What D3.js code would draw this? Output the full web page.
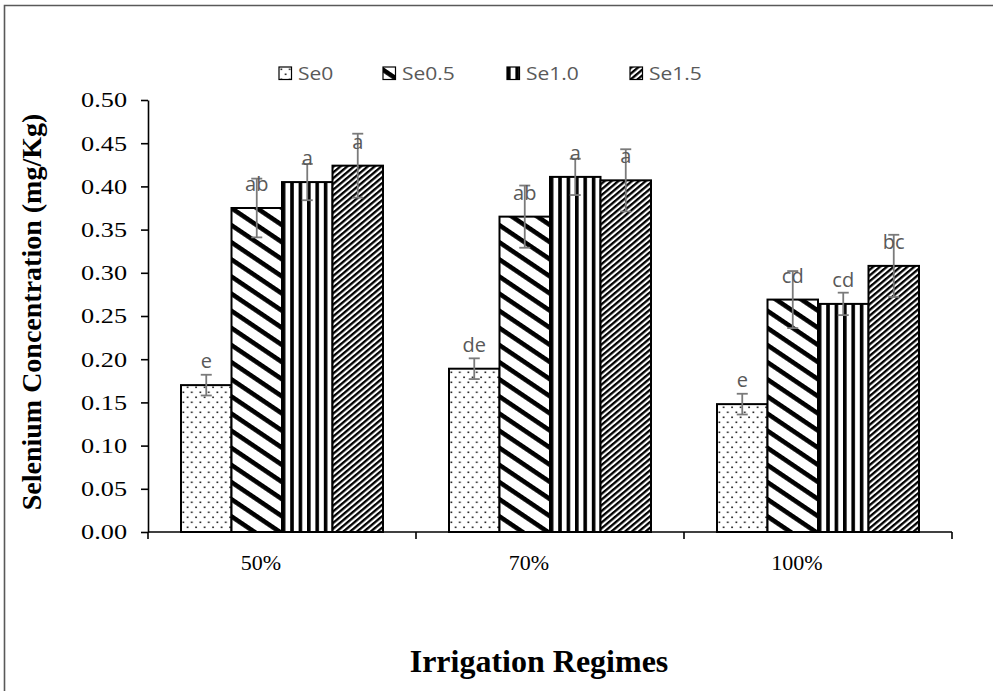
<!DOCTYPE html>
<html>
<head>
<meta charset="utf-8">
<script src="https://cdn.jsdelivr.net/npm/d3@7"></script>
<style>
  html, body { margin: 0; padding: 0; background: #fff; }
  svg { display: block; }
</style>
</head>
<body>
<script>
// Selenium concentration by irrigation regime and Se dose
const categories = ["50%", "70%", "100%"];
const series = ["Se0", "Se0.5", "Se1.0", "Se1.5"];
const valuesSe0  = [0.170, 0.189, 0.148];
const valuesSe05 = [0.375, 0.365, 0.269];
const valuesSe10 = [0.405, 0.411, 0.264];
const valuesSe15 = [0.424, 0.407, 0.308];
const errSe0  = [0.012, 0.012, 0.012];
const errSe05 = [0.034, 0.036, 0.033];
const errSe10 = [0.021, 0.021, 0.013];
const errSe15 = [0.037, 0.036, 0.036];
const lettersSe0  = ["e", "de", "e"];
const lettersSe05 = ["ab", "ab", "cd"];
const lettersSe10 = ["a", "a", "cd"];
const lettersSe15 = ["a", "a", "bc"];
const yTicks = [0, 0.05, 0.10, 0.15, 0.20, 0.25, 0.30, 0.35, 0.40, 0.45, 0.50];

const seriesValues = [valuesSe0, valuesSe05, valuesSe10, valuesSe15];
const seriesErrors = [errSe0, errSe05, errSe10, errSe15];
const seriesLetters = [lettersSe0, lettersSe05, lettersSe10, lettersSe15];
const patternIds = ["pat-dots", "pat-wide-down", "pat-vert", "pat-narrow-up"];

const W = 993, H = 691;
const plot = { left: 148, right: 952, top: 100, bottom: 532 };

// Widen a text run horizontally while keeping its anchor point
function widen(sel, factor) {
  sel.each(function () {
    const n = this;
    const w = n.getComputedTextLength();
    d3.select(n).attr("textLength", w * factor).attr("lengthAdjust", "spacingAndGlyphs");
  });
}

const svg = d3.select("body").append("svg")
  .attr("width", W).attr("height", H);

svg.append("rect").attr("width", W).attr("height", H).attr("fill", "#fff");

// Outer frame (top and left edges visible)
svg.append("path")
  .attr("d", `M4.5,${H} V5.5 H${W}`)
  .attr("fill", "none").attr("stroke", "#595959").attr("stroke-width", 1.6);

// Fill patterns
const defs = svg.append("defs");

const pDots = defs.append("pattern").attr("id", "pat-dots")
  .attr("patternUnits", "userSpaceOnUse").attr("width", 8.5).attr("height", 10);
pDots.append("rect").attr("width", 8.5).attr("height", 10).attr("fill", "#fff");
pDots.append("rect").attr("x", 1.5).attr("y", 1.5).attr("width", 1.6).attr("height", 1.6).attr("fill", "#111");
pDots.append("rect").attr("x", 5.8).attr("y", 6.5).attr("width", 1.6).attr("height", 1.6).attr("fill", "#111");

const pWide = defs.append("pattern").attr("id", "pat-wide-down")
  .attr("patternUnits", "userSpaceOnUse").attr("width", 20).attr("height", 14.2)
  .attr("patternTransform", "rotate(34)");
pWide.append("rect").attr("width", 20).attr("height", 14.2).attr("fill", "#fff");
pWide.append("rect").attr("y", 0).attr("width", 20).attr("height", 4.6).attr("fill", "#000");

const pVert = defs.append("pattern").attr("id", "pat-vert")
  .attr("patternUnits", "userSpaceOnUse").attr("width", 8.4).attr("height", 10);
pVert.append("rect").attr("width", 8.4).attr("height", 10).attr("fill", "#fff");
pVert.append("rect").attr("x", 0).attr("width", 3.6).attr("height", 10).attr("fill", "#000");

const pNarrow = defs.append("pattern").attr("id", "pat-narrow-up")
  .attr("patternUnits", "userSpaceOnUse").attr("width", 10).attr("height", 4.4)
  .attr("patternTransform", "rotate(-40)");
pNarrow.append("rect").attr("width", 10).attr("height", 4.4).attr("fill", "#fff");
pNarrow.append("rect").attr("y", 0).attr("width", 10).attr("height", 2.3).attr("fill", "#000");

// Scales
const x0 = d3.scaleBand().domain(categories)
  .range([plot.left, plot.right]).paddingInner(0.2463).paddingOuter(0.12315);
const x1 = d3.scaleBand().domain(series).range([0, x0.bandwidth()]).padding(0);
const y = d3.scaleLinear().domain([0, 0.5]).range([plot.bottom, plot.top]);

// Y axis
const yAxis = svg.append("g")
  .attr("transform", `translate(${plot.left},0)`)
  .call(d3.axisLeft(y).tickValues(yTicks).tickFormat(d3.format(".2f"))
    .tickSize(7).tickSizeOuter(0).tickPadding(14));
yAxis.select(".domain").attr("stroke", "#000").attr("stroke-width", 1.6);
yAxis.selectAll(".tick line").attr("stroke", "#000").attr("stroke-width", 1.6);
yAxis.selectAll(".tick text")
  .attr("font-family", "'Liberation Serif', 'Times New Roman', serif")
  .attr("font-size", 21.5).attr("fill", "#000")
  .call(widen, 1.22);

// Bars
const groups = svg.append("g").selectAll("g")
  .data(categories).join("g")
  .attr("transform", d => `translate(${x0(d)},0)`);

groups.each(function (cat, ci) {
  const g = d3.select(this);
  series.forEach((s, si) => {
    const v = seriesValues[si][ci];
    g.append("rect")
      .attr("x", x1(s)).attr("width", x1.bandwidth())
      .attr("y", y(v)).attr("height", y(0) - y(v))
      .attr("fill", `url(#${patternIds[si]})`)
      .attr("stroke", "#000").attr("stroke-width", 2);
  });
});

// Error bars and significance letters
groups.each(function (cat, ci) {
  const g = d3.select(this);
  series.forEach((s, si) => {
    const v = seriesValues[si][ci];
    const e = seriesErrors[si][ci];
    const cx = x1(s) + x1.bandwidth() / 2;
    const eb = g.append("g").attr("stroke", "#7a7a7a").attr("stroke-width", 1.8);
    eb.append("line").attr("x1", cx).attr("x2", cx).attr("y1", y(v + e)).attr("y2", y(v - e));
    eb.append("line").attr("x1", cx - 5.5).attr("x2", cx + 5.5).attr("y1", y(v + e)).attr("y2", y(v + e));
    eb.append("line").attr("x1", cx - 5.5).attr("x2", cx + 5.5).attr("y1", y(v - e)).attr("y2", y(v - e));
    g.append("text")
      .attr("x", cx).attr("y", y(v) - 17)
      .attr("text-anchor", "middle")
      .attr("font-family", "'Open Sans', 'Noto Sans', sans-serif")
      .attr("font-size", 20).attr("fill", "#595959")
      .text(seriesLetters[si][ci]);
  });
});

// X axis
const xAxis = svg.append("g")
  .attr("transform", `translate(0,${plot.bottom})`)
  .call(d3.axisBottom(x0).tickSize(0).tickPadding(22));
xAxis.select(".domain").remove();
xAxis.append("line")
  .attr("x1", plot.left).attr("x2", plot.right)
  .attr("stroke", "#000").attr("stroke-width", 1.6);
const boundaries = [plot.left].concat(categories.map(c => x0(c) + x0.bandwidth() + x0.step() * x0.paddingInner() / 2));
xAxis.selectAll(".bound").data(boundaries).join("line")
  .attr("class", "bound")
  .attr("x1", d => d).attr("x2", d => d).attr("y1", 0).attr("y2", 7)
  .attr("stroke", "#000").attr("stroke-width", 1.6);
xAxis.selectAll(".tick text")
  .attr("dx", -21)
  .attr("font-family", "'Liberation Serif', 'Times New Roman', serif")
  .attr("font-size", 22).attr("fill", "#000");

// Axis titles
svg.append("text")
  .attr("x", (plot.left + plot.right) / 2 - 11).attr("y", 672)
  .attr("text-anchor", "middle")
  .attr("font-family", "'Liberation Serif', 'Times New Roman', serif")
  .attr("font-weight", "bold").attr("font-size", 32).attr("fill", "#000")
  .text("Irrigation Regimes");

svg.append("text")
  .attr("transform", "translate(41,312) rotate(-90)")
  .attr("text-anchor", "middle")
  .attr("font-family", "'Liberation Serif', 'Times New Roman', serif")
  .attr("font-weight", "bold").attr("font-size", 28).attr("fill", "#000")
  .text("Selenium Concentration (mg/Kg)");

// Legend
const legendX = [279, 383, 507, 630];
const legend = svg.append("g").selectAll("g")
  .data(series).join("g")
  .attr("transform", (d, i) => `translate(${legendX[i]},67)`);
legend.append("rect")
  .attr("width", 12.5).attr("height", 12.5)
  .attr("fill", (d, i) => `url(#${patternIds[i]})`)
  .attr("stroke", "#000").attr("stroke-width", 1.2);
legend.append("text")
  .attr("x", 19).attr("y", 13)
  .attr("font-family", "'Open Sans', 'Noto Sans', sans-serif")
  .attr("font-size", 17.5).attr("fill", "#595959")
  .text(d => d)
  .call(widen, 1.2);
</script>
</body>
</html>
